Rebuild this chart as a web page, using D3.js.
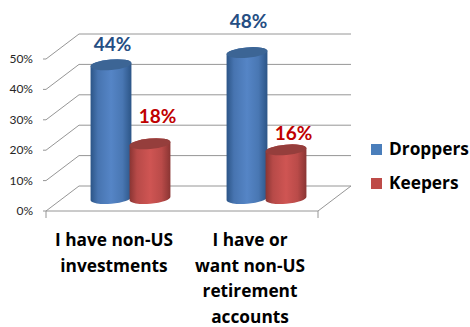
<!DOCTYPE html>
<html>
<head>
<meta charset="utf-8">
<script src="https://cdn.jsdelivr.net/npm/d3@7"></script>
<style>
html, body { margin: 0; padding: 0; background: #fff; }
svg { display: block; }
text { font-family: Lato, "Open Sans", sans-serif; }
.wide { font-family: "Open Sans", Lato, sans-serif; }
</style>
</head>
<body>
<div id="chart"></div>
<script>
const categories = ["I have non-US investments", "I have or want non-US retirement accounts"];
const categoryLines = [["I have non-US", "investments"], ["I have or", "want non-US", "retirement", "accounts"]];
const seriesNames = ["Droppers", "Keepers"];
const droppers = [44, 48];
const keepers = [18, 16];
const tickValues = [0, 10, 20, 30, 40, 50];

const width = 470, height = 327;
const depth = { x: 33, y: -25 };
const plot = { left: 46, right: 318, bottom: 211, top: 59 };

// Data labels were hand-placed, so each sits its own distance above its cylinder
const labelLift = { Droppers: [14, 24.6], Keepers: [21, 10] };

const seriesStyle = [
  { edge: "#2c5587", mid: "#5585c6", top: "#3c6595", label: "#254e83", square: "#4a7ebb" },
  { edge: "#8a3533", mid: "#cf5553", top: "#953e3c", label: "#c00000", square: "#be4b48" }
];

const svg = d3.select("#chart").append("svg").attr("width", width).attr("height", height);
const defs = svg.append("defs");

seriesStyle.forEach((s, i) => {
  const g = defs.append("linearGradient").attr("id", "cyl" + i);
  [[0, s.edge], [0.18, d3.interpolateRgb(s.edge, s.mid)(0.65)], [0.5, s.mid], [0.78, d3.interpolateRgb(s.edge, s.mid)(0.7)], [1, s.edge]]
    .forEach(([o, c]) => g.append("stop").attr("offset", o).attr("stop-color", c));
});

const y = d3.scaleLinear().domain([0, 50]).range([plot.bottom, plot.top]);
const x0 = d3.scaleBand().domain(categories).range([plot.left, plot.right]);
const x1 = d3.scalePoint().domain(seriesNames).range([-19.5, 19.5]);

// Walls and floor of the 3D frame
const grid = svg.append("g").attr("fill", "none").attr("stroke", "#969696").attr("stroke-width", 1);
tickValues.forEach(v => {
  grid.append("path").attr("d", d3.line()([
    [plot.left, y(v)],
    [plot.left + depth.x, y(v) + depth.y],
    [plot.right + depth.x, y(v) + depth.y]
  ]));
});
grid.append("path").attr("d", d3.line()([
  [plot.left, plot.bottom],
  [plot.right, plot.bottom],
  [plot.right + depth.x, plot.bottom + depth.y]
]));
grid.append("path").attr("d", d3.line()([[plot.left, plot.bottom], [plot.left, plot.bottom + 7]]));
grid.append("path").attr("d", d3.line()([[plot.right, plot.bottom], [plot.right, plot.bottom + 7]]));
tickValues.forEach(v => {
  grid.append("path").attr("d", d3.line()([[plot.left - 3, y(v)], [plot.left, y(v)]]));
});

// Value axis labels
svg.append("g").selectAll("text").data(tickValues).join("text")
  .attr("x", 33).attr("y", d => y(d) + 4)
  .attr("text-anchor", "end").attr("font-size", 12).attr("fill", "#262626")
  .text(d => d + "%");

// Cylinder body and cap, both ellipses rotated slightly for the chart's perspective
const rx = 20.5, ry = 5.2, tiltDeg = -5;
const dxE = rx * Math.cos(tiltDeg * Math.PI / 180);
const dyE = rx * Math.sin(tiltDeg * Math.PI / 180);

function cylinderPath(cx, yTop, yBase) {
  return `M${cx - dxE},${yTop - dyE} L${cx - dxE},${yBase - dyE}`
    + ` A${rx},${ry} ${tiltDeg} 0 0 ${cx + dxE},${yBase + dyE}`
    + ` L${cx + dxE},${yTop + dyE}`
    + ` A${rx},${ry} ${tiltDeg} 0 0 ${cx - dxE},${yTop - dyE} Z`;
}
function capPath(cx, yTop) {
  return `M${cx - dxE},${yTop - dyE}`
    + ` A${rx},${ry} ${tiltDeg} 0 0 ${cx + dxE},${yTop + dyE}`
    + ` A${rx},${ry} ${tiltDeg} 0 0 ${cx - dxE},${yTop - dyE} Z`;
}

const rows = [];
categories.forEach((c, i) => {
  rows.push({ cat: c, name: seriesNames[0], value: droppers[i], s: 0, i });
  rows.push({ cat: c, name: seriesNames[1], value: keepers[i], s: 1, i });
});

const midX = depth.x / 2, midY = depth.y / 2;
const barX = d => x0(d.cat) + x0.bandwidth() / 2 + x1(d.name) + midX;

const bars = svg.append("g").selectAll("g").data(rows).join("g");
bars.append("path")
  .attr("fill", d => `url(#cyl${d.s})`)
  .attr("d", d => cylinderPath(barX(d), y(d.value) + midY, y(0) + midY));
bars.append("path")
  .attr("fill", d => seriesStyle[d.s].top)
  .attr("d", d => capPath(barX(d), y(d.value) + midY));

// Value labels above each cylinder
svg.append("g").selectAll("text").data(rows).join("text")
  .attr("x", d => barX(d) + (d.s ? 7.5 : 1.5))
  .attr("y", d => y(d.value) + midY - labelLift[d.name][d.i])
  .attr("text-anchor", "middle").attr("font-size", 19).attr("font-weight", 700)
  .attr("fill", d => seriesStyle[d.s].label)
  .text(d => d.value + "%");

// Category labels
const catLabels = svg.append("g").selectAll("text").data(categories).join("text")
  .attr("class", "wide")
  .attr("text-anchor", "middle").attr("font-size", 17.3).attr("font-weight", 700).attr("fill", "#000");
catLabels.each(function (c, i) {
  d3.select(this).selectAll("tspan").data(categoryLines[i]).join("tspan")
    .attr("x", x0(c) + x0.bandwidth() / 2)
    .attr("y", (d, j) => 246 + j * 25.6)
    .text(d => d);
});

// Legend
const legend = svg.append("g").selectAll("g").data(seriesNames).join("g")
  .attr("transform", (d, i) => `translate(371,${144 + i * 34})`);
legend.append("rect").attr("width", 11).attr("height", 11).attr("fill", (d, i) => seriesStyle[i].square);
legend.append("text").attr("class", "wide").attr("x", 18).attr("y", 11).attr("font-size", 17.3).attr("font-weight", 700).attr("fill", "#000").text(d => d);
</script>
</body>
</html>
